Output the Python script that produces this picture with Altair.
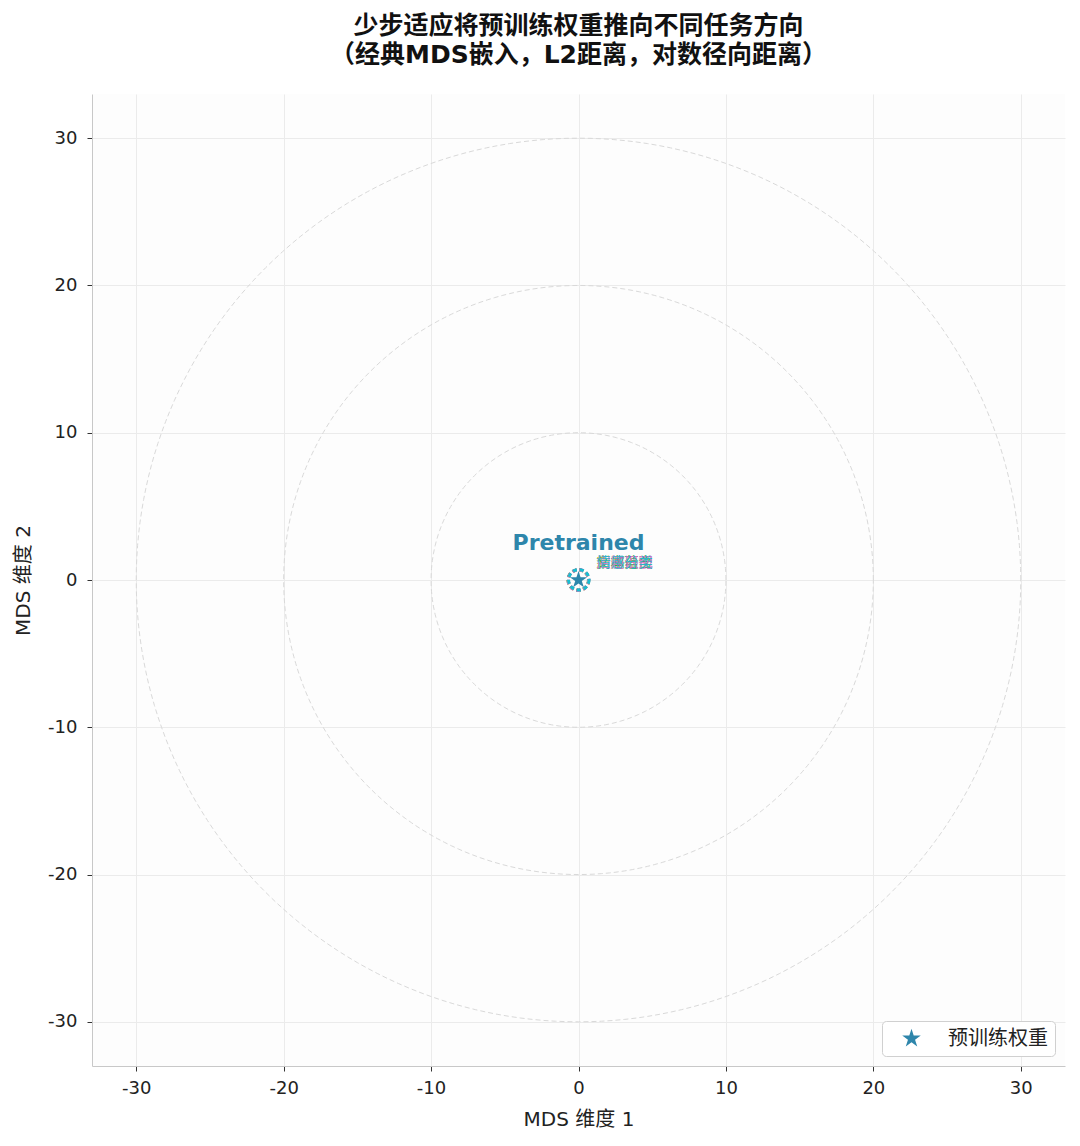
import altair as alt
import pandas as pd
import numpy as np

# ---- data ----
pre_x = [0.0]
pre_y = [0.0]
pre_label = ["Pretrained"]
legend_name = ["预训练权重"]

task_names = ["新闻分类", "文本蕴含", "问答匹配", "主题识别", "情感分类"]
task_x = [0.0, -0.02, 0.01, -0.01, 0.02]
task_y = [-0.01, 0.0, 0.02, -0.02, 0.01]
task_colors = ["#bcbd22", "#2ca02c", "#9467bd", "#e377c2", "#17becf"]

radii = [10, 20, 30]
ticks = [-30, -20, -10, 0, 10, 20, 30]

FONT = "DejaVu Sans, Noto Sans CJK SC"
STAR = "M0,-1L0.2245,-0.309L0.9511,-0.309L0.3633,0.118L0.5878,0.809L0,0.382L-0.5878,0.809L-0.3633,0.118L-0.9511,-0.309L-0.2245,-0.309Z"

# ---- tables ----
pre_df = pd.DataFrame({"x": pre_x, "y": pre_y, "label": pre_label, "series": legend_name})
task_df = pd.DataFrame({"x": task_x, "y": task_y, "name": task_names, "color": task_colors,
                        "k": list(range(len(task_names)))})
ang = np.linspace(0, 2 * np.pi, 241)
ring_rows = []
for r in radii:
    for i, a in enumerate(ang):
        ring_rows.append({"r": r, "i": i, "x": r * np.cos(a), "y": r * np.sin(a)})
ring_df = pd.DataFrame(ring_rows)

xs = alt.Scale(domain=[-33, 33], nice=False, zero=False)
ys = alt.Scale(domain=[-33, 33], nice=False, zero=False)

common = dict(values=ticks, grid=True, gridColor="#ebebeb", domainColor="#c8c8c8",
              tickColor="#333333", tickSize=5, labelFontSize=18, titleFontSize=20,
              labelColor="#222222", titleColor="#222222", titleFontWeight="normal",
              labelFont=FONT, titleFont=FONT, labelExpr="replace(datum.label, '−', '-')")
xax = alt.Axis(title="MDS 维度 1", labelPadding=8, titlePadding=12, **common)
yax = alt.Axis(title="MDS 维度 2", labelPadding=10, titlePadding=14, **common)

rings = alt.Chart(ring_df).mark_line(color="#d9d9d9", strokeDash=[5, 3], strokeWidth=1).encode(
    x=alt.X("x:Q", scale=xs, axis=xax),
    y=alt.Y("y:Q", scale=ys, axis=yax),
    detail="r:N",
    order="i:Q",
)

task_pts = alt.Chart(task_df).mark_point(shape="circle", size=420, strokeWidth=3,
                                         strokeDash=[4, 3], filled=False, opacity=1).encode(
    x=alt.X("x:Q", scale=xs),
    y=alt.Y("y:Q", scale=ys),
    color=alt.Color("color:N", scale=None),
    order="k:Q",
)

task_txt = alt.Chart(task_df).mark_text(align="left", baseline="middle", dx=18, dy=-17,
                                        fontSize=14, font=FONT, opacity=0.85).encode(
    x=alt.X("x:Q", scale=xs),
    y=alt.Y("y:Q", scale=ys),
    text="name:N",
    color=alt.Color("color:N", scale=None),
    order="k:Q",
)

star = alt.Chart(pre_df).mark_point(shape=STAR, filled=True, size=330, opacity=1).encode(
    x=alt.X("x:Q", scale=xs),
    y=alt.Y("y:Q", scale=ys),
    color=alt.Color("series:N", scale=alt.Scale(range=["#2E86AB"]),
                    legend=alt.Legend(title=None, orient="bottom-right", symbolSize=380,
                                      symbolType=STAR, symbolOpacity=1, symbolOffset=12,
                                      labelFontSize=20, labelFont=FONT, labelColor="#222222",
                                      fillColor="white", strokeColor="#d0d0d0", cornerRadius=4,
                                      padding=7, offset=10, labelOffset=26)),
)

pre_txt = alt.Chart(pre_df).mark_text(align="center", baseline="middle", dy=-37,
                                      fontSize=22, fontWeight="bold", color="#2E86AB",
                                      font=FONT).encode(
    x=alt.X("x:Q", scale=xs),
    y=alt.Y("y:Q", scale=ys),
    text="label:N",
)

chart = alt.layer(rings, task_pts, star, task_txt, pre_txt).properties(
    width=973, height=972,
    background="white",
    padding={"left": 5, "top": 6, "right": 3, "bottom": 3},
    title=alt.Title(["少步适应将预训练权重推向不同任务方向", "（经典MDS嵌入，L2距离，对数径向距离）"],
                    fontSize=25, fontWeight="bold", font=FONT, color="#111111",
                    anchor="middle", offset=26, lineHeight=29),
).configure_view(fill="#fdfdfd", stroke="transparent", strokeWidth=0)

chart.save("out.html", embed_options={"renderer": "svg", "actions": False})
